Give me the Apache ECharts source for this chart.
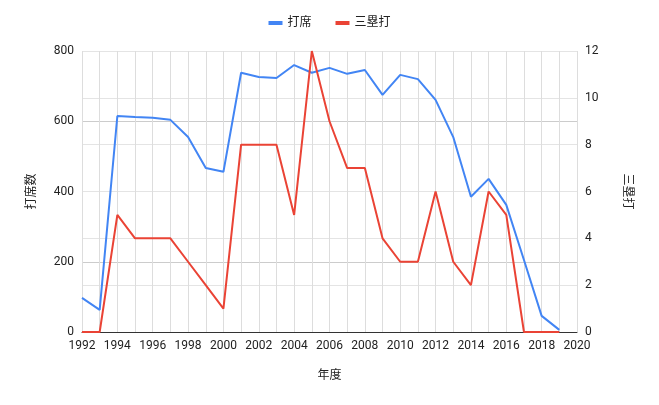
<!DOCTYPE html>
<html><head><meta charset="utf-8">
<script src="https://cdn.jsdelivr.net/npm/echarts@6/dist/echarts.min.js"></script>
<style>html,body{margin:0;padding:0;background:#fff}#c{width:659px;height:405px}</style>
</head><body><div id="c"></div>
<script>
const years = [1992,1993,1994,1995,1996,1997,1998,1999,2000,2001,2002,2003,2004,2005,2006,2007,2008,2009,2010,2011,2012,2013,2014,2015,2016,2017,2018,2019];
const atBats = [97,63,615,612,610,604,555,467,456,738,726,723,760,738,752,735,746,675,732,720,661,555,385,436,362,205,46,6];
const triples = [0,0,5,4,4,4,3,2,1,8,8,8,5,12,9,7,7,4,3,3,6,3,2,6,5,0,0,0];
const font = 'Roboto, "Noto Sans CJK JP", sans-serif';
const chart = echarts.init(document.getElementById('c'));
chart.setOption({
  animation:false,
  textStyle:{fontFamily:font},
  legend:{top:12,left:'center',itemWidth:14,itemHeight:4,icon:'rect',itemGap:24,textStyle:{fontSize:12,color:'#222'}},
  grid:{left:82,right:82,top:51,bottom:73},
  xAxis:{type:'value',min:1992,max:2020,interval:1,name:'年度',nameLocation:'middle',nameGap:38,
    nameTextStyle:{fontSize:12,color:'#222'},
    axisLabel:{color:'#222',fontSize:12,formatter:v=>v%2===0?String(v):''},
    axisTick:{show:false},axisLine:{lineStyle:{color:'#333'}},
    splitLine:{show:true,lineStyle:{color:'#ddd'}}},
  yAxis:[
    {type:'value',min:0,max:800,interval:200,name:'打席数',nameLocation:'middle',nameGap:44,nameRotate:90,
     nameTextStyle:{fontSize:12,color:'#222'},axisLabel:{color:'#222',fontSize:12},
     axisLine:{show:false},axisTick:{show:false},splitLine:{lineStyle:{color:'#ccc'}}},
    {type:'value',min:0,max:12,interval:2,name:'三塁打',nameLocation:'middle',nameGap:44,nameRotate:-90,
     nameTextStyle:{fontSize:12,color:'#222'},axisLabel:{color:'#222',fontSize:12},
     axisLine:{show:false},axisTick:{show:false},splitLine:{lineStyle:{color:'#e4e4e4'}}}
  ],
  series:[
    {name:'打席',type:'line',yAxisIndex:0,showSymbol:false,lineStyle:{width:2,color:'#4285F4'},itemStyle:{color:'#4285F4'},
     data:years.map((y,i)=>[y,atBats[i]])},
    {name:'三塁打',type:'line',yAxisIndex:1,showSymbol:false,lineStyle:{width:2,color:'#EA4335'},itemStyle:{color:'#EA4335'},
     data:years.map((y,i)=>[y,triples[i]])}
  ]
});
</script></body></html>
